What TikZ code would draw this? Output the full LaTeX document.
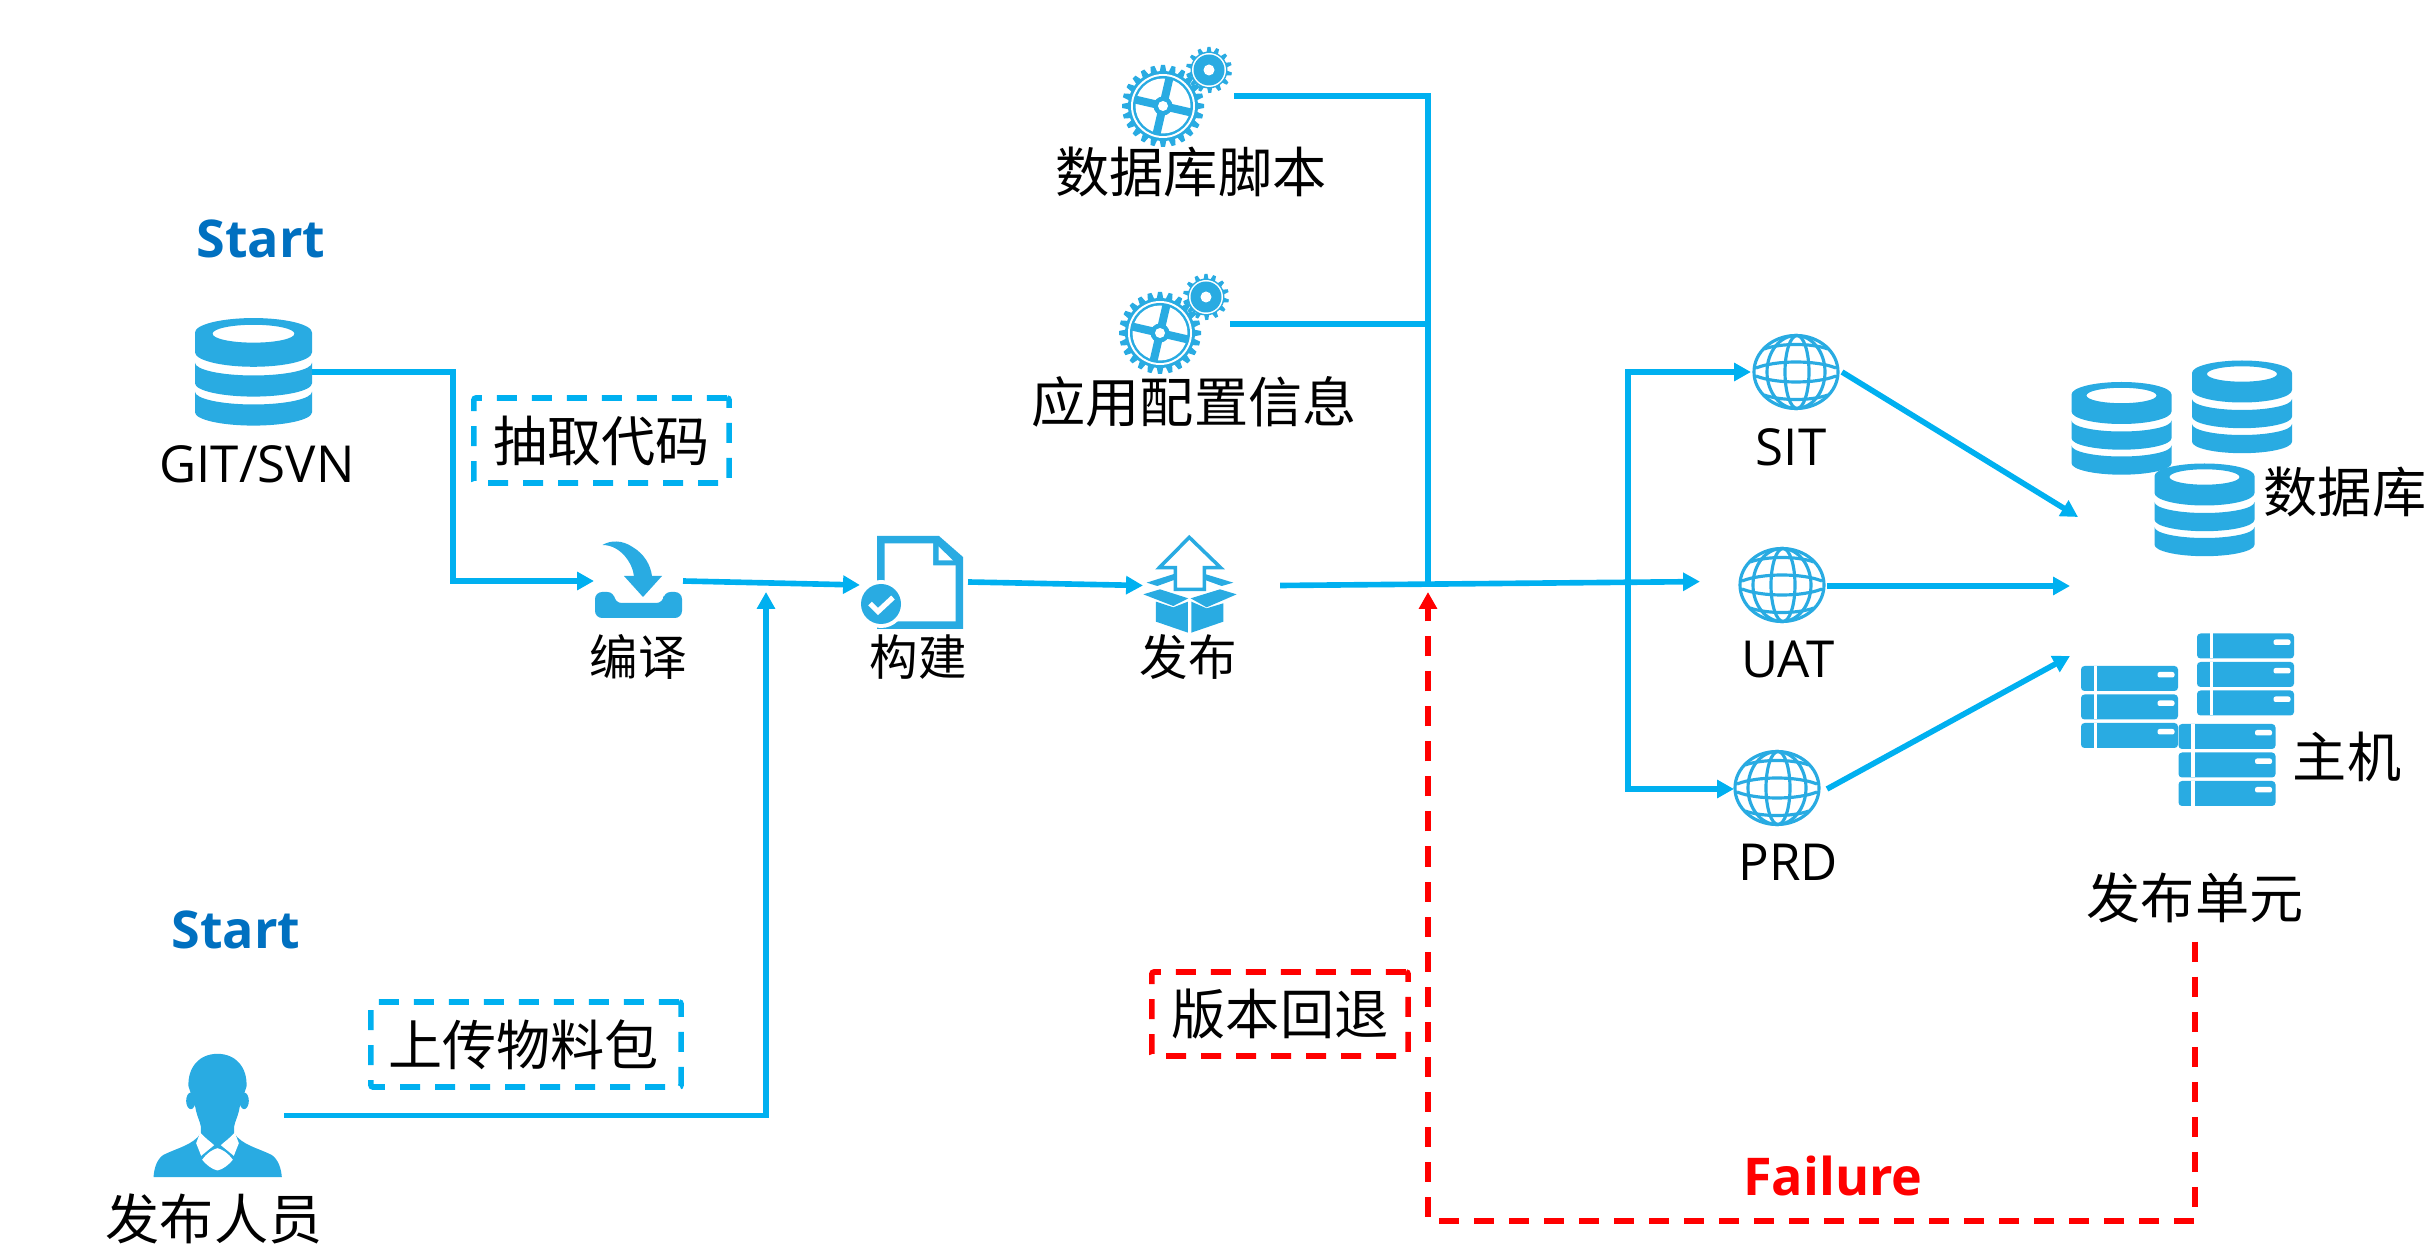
\documentclass[tikz,border=0pt]{standalone}
\usepackage{fontspec}
\usetikzlibrary{arrows.meta}
\setmainfont{Open Sans}
\newfontfamily\cjk{Noto Sans CJK SC}
\definecolor{flowblue}{HTML}{00B0F0}
\definecolor{iconblue}{HTML}{29ABE2}
\definecolor{startblue}{HTML}{0070C0}

\begin{document}
\begin{tikzpicture}[
        x=0.01cm, y=-0.01cm,
        iconbox/.style={inner sep=0pt, outer sep=0pt},
        iconfill/.style={fill=iconblue},
        iconline/.style={draw=iconblue, line width=0.9pt},
        flowline/.style={draw=flowblue, line width=1.6pt},
        flowarrow/.style={flowline, -{Triangle[length=4.8pt,width=5pt]}},
        failline/.style={draw=red, line width=1.6pt, dash pattern=on 0.2cm off 0.15cm, -{Triangle[length=4.8pt,width=5pt]}},
        latlabel/.style={inner sep=0pt, font=\fontsize{14.5}{18}\selectfont},
        cjklabel/.style={inner sep=0pt, font=\cjk\fontsize{15.4}{18}\selectfont},
        steplabel/.style={inner sep=0pt, font=\cjk\fontsize{13.8}{18}\selectfont},
        headlabel/.style={inner sep=0pt, text=startblue, font=\bfseries\fontsize{14.8}{19}\selectfont},
        dashbox/.style={cjklabel, draw=flowblue, line width=1.6pt, rounded corners=0.6pt, dash pattern=on 0.2cm off 0.15cm},
        faildash/.style={dashbox, draw=red},
        pics/dbicon/.style={code={
            \fill[iconfill, even odd rule] (-50,-34) arc[start angle=180, end angle=360, x radius=50, y radius=12.5]
                -- (50,-17) arc[start angle=0, end angle=180, x radius=50, y radius=12.5] -- cycle
                (0,-33) ellipse [x radius=35, y radius=7.7];
            \foreach \dy in {0,25}{
                \fill[iconfill] (-50,-8+\dy) arc[start angle=180, end angle=90, x radius=50, y radius=11]
                    arc[start angle=90, end angle=0, x radius=50, y radius=11]
                    -- (50,9.7+\dy) arc[start angle=0, end angle=180, x radius=50, y radius=11.5] -- cycle;
            }
        }},
        pics/gearicon/.style={code={
            \foreach \a in {0,15,...,345}{
                \fill[iconfill, rotate=\a] (-3.6,-33) -- (-2,-41) -- (2,-41) -- (3.6,-33) -- cycle;
            }
            \fill[iconfill] (0,0) circle [radius=35];
            \fill[white] (0,0) circle [radius=32];
            \fill[iconfill] (0,0) circle [radius=30];
            \fill[white] (0,0) circle [radius=27.5];
            \fill[iconfill, rotate=-13] (-29,-4) rectangle (29,4);
            \fill[iconfill, rotate=-13] (-4,-29) rectangle (4,29);
            \fill[iconfill] (0,0) circle [radius=9.5];
            \fill[white] (0,0) circle [radius=5];
            \begin{scope}[shift={(46,-36)}]
                \foreach \a in {0,26,...,338}{
                    \fill[iconfill, rotate=\a] (-2.6,-17) -- (-1.5,-23) -- (1.5,-23) -- (2.6,-17) -- cycle;
                }
                \fill[iconfill] (0,0) circle [radius=18.5];
                \fill[white] (0,0) circle [radius=17];
                \fill[iconfill] (0,0) circle [radius=15.5];
                \fill[white] (0,0) circle [radius=5.5];
            \end{scope}
        }},
        pics/globeicon/.style={code={
            \draw[iconline] (0,0) ellipse [x radius=42, y radius=36.5];
            \draw[iconline] (1,0) ellipse [x radius=12, y radius=36.5];
            \draw[iconline] (0,0) ellipse [x radius=29, y radius=36.5];
            \draw[iconline] (-40,-4) .. controls (-20,-12) and (20,-12) .. (40,-4);
            \draw[iconline] (-40,4) .. controls (-20,12) and (20,12) .. (40,4);
            \draw[iconline] (-32,-23) .. controls (-15,-29) and (15,-29) .. (32,-23);
            \draw[iconline] (-32,23) .. controls (-15,29) and (15,29) .. (32,23);
        }},
        pics/servericon/.style={code={
            \foreach \dy in {-28.5,0,28.5}{
                \fill[iconfill, rounded corners=1pt] (-48.5,\dy-12.5) rectangle (48.5,\dy+12.5);
                \fill[white] (-36,\dy-12.5) rectangle (-32.5,\dy+12.5);
                \fill[white, rounded corners=0.6pt] (28,\dy-6.5) rectangle (45,\dy-1);
            }
        }},
        pics/compileicon/.style={code={
            \fill[iconfill, rounded corners=2pt] (-43.5,11) -- (-24,11) -- (-24,22) -- (25,22) -- (25,11) -- (43.5,11)
                -- (43.5,37) -- (-43.5,37) -- cycle;
            \fill[iconfill] (-36,-36) .. controls (-28,-41) and (-16,-41) .. (-6,-34)
                .. controls (6,-27) and (12,-16) .. (13.5,-5) -- (23.5,-5) -- (4.5,16) -- (-14.5,-5) -- (-4.5,-5)
                .. controls (-6,-18) and (-18,-36) .. (-36,-36) -- cycle;
        }},
        pics/buildicon/.style={code={
            \fill[iconfill] (-43,-46.5) -- (19,-46.5) -- (43,-25.5) -- (43,46.5) -- (-43,46.5) -- cycle;
            \fill[white] (-35.5,-39) -- (13,-39) -- (13,-17) -- (35.5,-17) -- (35.5,39) -- (-35.5,39) -- cycle;
            \fill[white] (18.5,-36) -- (18.5,-22) -- (33,-22) -- cycle;
            \fill[white] (-39,21.5) circle [radius=24];
            \fill[iconfill] (-39,21.5) circle [radius=20];
            \draw[white, line width=1.5pt] (-50,21) -- (-42,29) -- (-27,15);
        }},
        pics/publishicon/.style={code={
            \begin{scope}[scale=0.3333, shift={(-418,-255)}]
                \draw[iconline, line width=1pt, fill=white] (418,112) -- (512,203) -- (463,203) -- (463,268) -- (376,268) -- (376,203) -- (328,203) -- cycle;
                \fill[iconfill] (290,248) -- (372,222) -- (372,240) -- (322,258) -- cycle;
                \fill[iconfill] (465,222) -- (550,248) -- (515,258) -- (465,240) -- cycle;
                \fill[iconfill] (280,283) -- (330,268) -- (415,295) -- (370,318) -- cycle;
                \fill[iconfill] (422,295) -- (510,268) -- (560,283) -- (470,322) -- cycle;
                \fill[iconfill] (318,305) -- (370,322) -- (414,305) -- (414,398) -- (318,365) -- cycle;
                \fill[iconfill] (424,305) -- (470,325) -- (520,310) -- (520,365) -- (424,398) -- cycle;
            \end{scope}
        }},
        pics/personicon/.style={code={
            \begin{scope}[scale=0.3333, shift={(-352,-287)}]
                \fill[iconfill] (352,102) .. controls (295,102) and (262,145) .. (265,200) -- (285,260)
                    .. controls (290,290) and (300,305) .. (302,320) -- (302,340)
                    .. controls (280,375) and (230,385) .. (190,405) .. controls (170,418) and (162,445) .. (160,472)
                    -- (545,472) .. controls (543,445) and (534,418) .. (514,405)
                    .. controls (474,385) and (424,375) .. (402,340) -- (402,320)
                    .. controls (404,305) and (414,290) .. (419,260) -- (439,200)
                    .. controls (442,145) and (409,102) .. (352,102) -- cycle;
                \fill[iconfill] (272,243) ellipse [x radius=14, y radius=25];
                \fill[iconfill] (432,243) ellipse [x radius=14, y radius=25];
                \fill[white] (300,338) .. controls (315,355) and (330,365) .. (342,376) -- (303,408) -- (288,370) -- cycle;
                \fill[white] (404,338) .. controls (389,355) and (374,365) .. (362,376) -- (401,408) -- (416,370) -- cycle;
                \fill[white] (306,420) .. controls (320,400) and (335,390) .. (352,385) .. controls (369,390) and (384,400) .. (398,420)
                    .. controls (385,435) and (370,448) .. (352,452) .. controls (334,448) and (319,435) .. (306,420) -- cycle;
            \end{scope}
        }},
    ]
    \useasboundingbox (0,0) rectangle (2432,1258);

    % left column
    \node[headlabel] (startgit) at (261,239) {Start};
    \node[iconbox, minimum width=1.17cm, minimum height=1.08cm] (git) at (253.5,372) {};
    \pic[xscale=1.17, yscale=1.16] at (git) {dbicon};
    \node[latlabel] (gitlabel) at (257,464) {GIT/SVN};
    \node[dashbox, minimum width=2.55cm, minimum height=0.85cm] (fetch) at (601.5,440.5) {抽取代码};

    \node[headlabel] (startuser) at (236,930) {Start};
    \node[iconbox, minimum width=1.33cm, minimum height=1.23cm] (person) at (217.5,1115.5) {};
    \pic at (person) {personicon};
    \node[cjklabel] (personlabel) at (214,1219) {发布人员};
    \node[dashbox, minimum width=3.1cm, minimum height=0.85cm] (upload) at (526,1044.5) {\hspace{-0.05cm}上传物料包\hspace{0.05cm}};

    % pipeline
    \node[iconbox, minimum width=0.89cm, minimum height=0.76cm] (compile) at (638.5,581) {};
    \pic at (compile) {compileicon};
    \node[steplabel] (compilelabel) at (638,657) {编译};
    \node[iconbox, minimum width=1.08cm, minimum height=0.93cm] (build) at (914,583.5) {};
    \pic at (920,582.5) {buildicon};
    \node[steplabel] (buildlabel) at (918,657) {构建};
    \node[iconbox, minimum width=1.37cm, minimum height=0.9cm] (publish) at (1211.5,585.5) {};
    \pic at (1189.3,585) {publishicon};
    \node[steplabel] (publishlabel) at (1188,657) {发布};

    % inputs at the top
    \node[iconbox, minimum width=1.24cm, minimum height=0.82cm] (script) at (1172,96) {};
    \pic at (1163,106) {gearicon};
    \node[cjklabel] (scriptlabel) at (1191,172) {数据库脚本};
    \node[iconbox, minimum width=1.2cm, minimum height=0.82cm] (config) at (1170,324) {};
    \pic at (1160,333) {gearicon};
    \node[cjklabel] (configlabel) at (1194,402) {应用配置信息};

    % environments
    \node[iconbox, minimum width=0.91cm, minimum height=0.74cm] (sit) at (1796.5,372) {};
    \pic at (1796,372) {globeicon};
    \node[latlabel] (sitlabel) at (1791,447) {SIT};
    \node[iconbox, minimum width=1.27cm, minimum height=0.74cm] (uat) at (1763.5,584) {};
    \pic at (1782,585) {globeicon};
    \node[latlabel] (uatlabel) at (1788,659) {UAT};
    \node[iconbox, minimum width=0.93cm, minimum height=0.74cm] (prd) at (1780.5,789) {};
    \pic at (1777,788) {globeicon};
    \node[latlabel] (prdlabel) at (1788,862) {PRD};

    % release units
    \pic at (2121.5,428.5) {dbicon};
    \pic at (2242,407) {dbicon};
    \pic at (2204.5,510) {dbicon};
    \node[cjklabel] (dblabel) at (2345,492) {数据库};
    \pic at (2129.5,707) {servericon};
    \pic at (2245.5,674.5) {servericon};
    \pic at (2227,765) {servericon};
    \node[cjklabel] (hostlabel) at (2347,757) {主机};
    \node[cjklabel, minimum height=0.86cm] (unit) at (2195,898) {发布单元};

    % failure path
    \node[faildash, minimum width=2.56cm, minimum height=0.84cm] (rollback) at (1280,1014) {版本回退};
    \node[inner sep=0pt, text=red, font=\bfseries\fontsize{14.8}{19}\selectfont] (failure) at (1833,1176) {Failure};

    \coordinate (gitbend) at (453,581);
    \coordinate (mergetip) at (766,592);
    \coordinate (junction) at (1428,585);
    \coordinate (split) at (1628,583);
    \coordinate (failturn) at (1428,1221);
    \coordinate (dbin) at (2078,517);
    \coordinate (midin) at (2070,586);
    \coordinate (hostin) at (2070,656);

    \draw[flowarrow] (git.east) -| (gitbend) -- (compile.west);
    \draw[flowarrow] (person.east) -| (mergetip);
    \draw[flowarrow] (compile.east) -- ([yshift=-0.43pt]build.west);
    \draw[flowarrow] ([yshift=0.43pt]build.east) -- (publish.west);
    \draw[flowarrow] (publish.east) -- ([yshift=0.68pt]uat.west);
    \draw[flowline] (script.east) -| (junction);
    \draw[flowline] (config.east) -| (junction);
    \draw[flowarrow] (split) |- (sit.west);
    \draw[flowarrow] (split) |- (prd.west);
    \draw[flowarrow] (sit.east) -- (dbin);
    \draw[flowarrow] ([yshift=-0.57pt]uat.east) -- (midin);
    \draw[flowarrow] (prd.east) -- (hostin);
    \draw[failline] (unit.south) |- (failturn) -- ([yshift=-2pt]junction);
\end{tikzpicture}
\end{document}
